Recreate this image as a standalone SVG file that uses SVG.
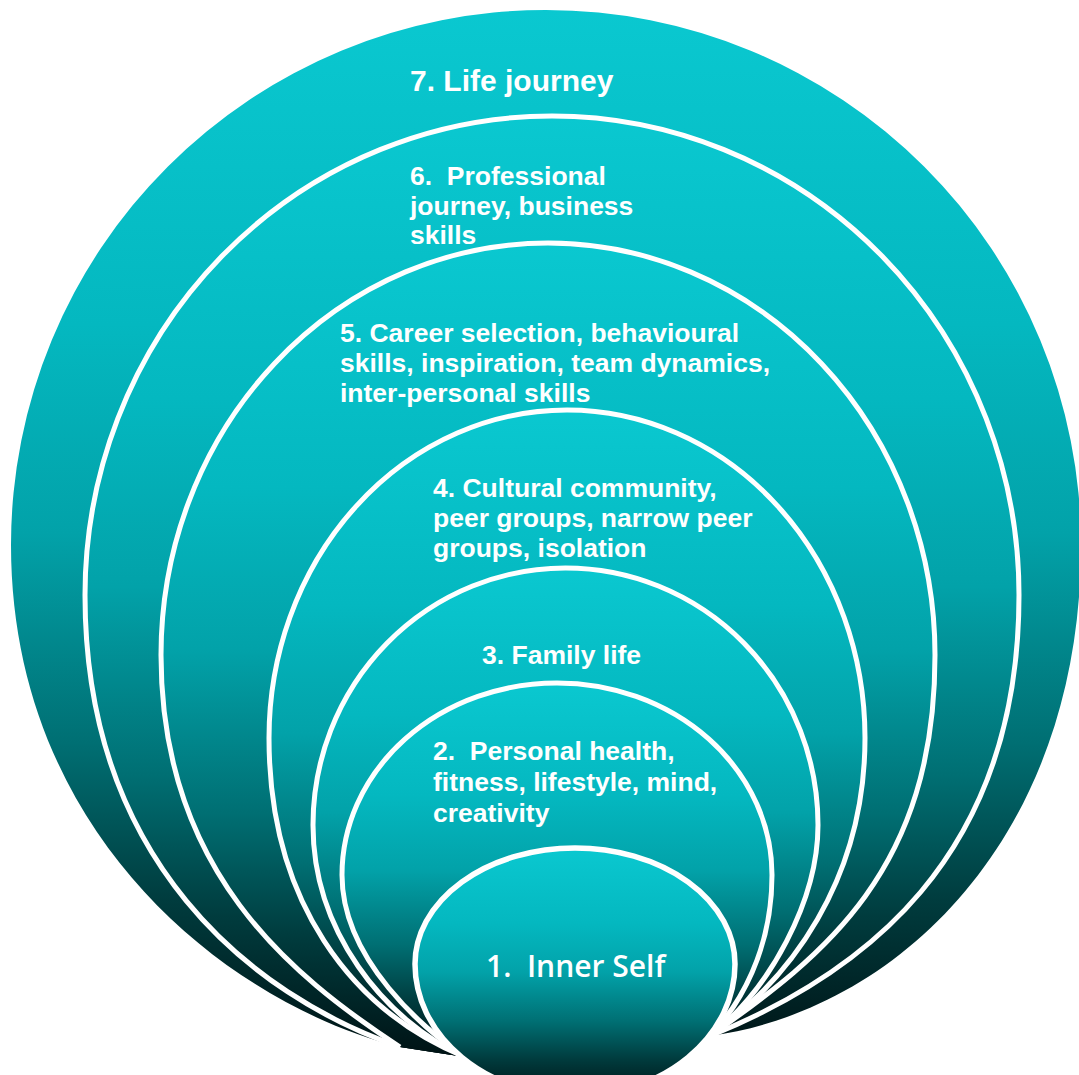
<svg xmlns="http://www.w3.org/2000/svg" width="1079" height="1075" viewBox="0 0 1079 1075">
  <defs>
    <!-- vertical fade used by every ring: bright teal at the top, near black at the bottom -->
    <linearGradient id="tealFade" x1="0" y1="0" x2="0" y2="1">
      <stop offset="0" stop-color="#0AC8D0"/>
      <stop offset="0.3" stop-color="#04B8C0"/>
      <stop offset="0.5" stop-color="#02A2A9"/>
      <stop offset="0.7" stop-color="#006F73"/>
      <stop offset="0.85" stop-color="#003C3E"/>
      <stop offset="1" stop-color="#001214"/>
    </linearGradient>
    <style>
      .band { fill: url(#tealFade); stroke: none; }
      .rim { fill: none; stroke: #FFFFFF; stroke-width: 5; stroke-linejoin: round; }
      .label { font-family: "Liberation Sans", Arial, sans-serif; font-weight: bold; font-size: 26.5px; fill: #FFFFFF; }
      .title { font-size: 30px; }
      .core { font-family: "Open Sans", "Liberation Sans", sans-serif; font-weight: 600; font-size: 30px; fill: #FFFFFF; }
    </style>
  </defs>

  <!-- 7. outermost ring -->
  <g id="ring7">
    <path class="band" d="M 400 1047 C 230 1005 11 835 11 545 A 535 535 0 0 1 1081 545 C 1081 835 900 1010 710 1036 L 575 1000 L 465 1057 Q 432 1052 400 1047 Z"/>
    <text class="label title" x="410" y="91">7. Life journey</text>
  </g>

  <!-- 6. professional ring -->
  <g id="ring6">
    <path class="band" d="M 400 1047 C 250 995 85 860 85 595 A 467 479 0 0 1 1019 595 C 1019 860 860 975 710 1036 L 575 1000 L 465 1057 Q 432 1052 400 1047 Z"/>
    <path class="rim" d="M 400 1047 C 250 995 85 860 85 595 A 467 479 0 0 1 1019 595 C 1019 860 860 975 710 1036"/>
    <text class="label" x="410" y="185" xml:space="preserve">6.  Professional</text>
    <text class="label" x="410" y="215">journey, business</text>
    <text class="label" x="410" y="244">skills</text>
  </g>

  <!-- 5. career ring -->
  <g id="ring5">
    <path class="band" d="M 400 1047 C 290 975 161 870 161 655 A 387 412 0 0 1 935 655 C 935 870 825 955 710 1036 L 575 1000 L 465 1057 Q 432 1052 400 1047 Z"/>
    <path class="rim" d="M 400 1047 C 290 975 161 870 161 655 A 387 412 0 0 1 935 655 C 935 870 825 955 710 1036"/>
    <text class="label" x="340" y="342">5. Career selection, behavioural</text>
    <text class="label" x="340" y="372">skills, inspiration, team dynamics,</text>
    <text class="label" x="340" y="402">inter-personal skills</text>
  </g>

  <!-- 4. community ring -->
  <g id="ring4">
    <path class="band" d="M 465 1057 C 350 1010 269 900 269 738 A 298 328 0 0 1 865 738 C 865 880 790 980 710 1036 L 575 1000 Z"/>
    <path class="rim" d="M 465 1057 C 350 1010 269 900 269 738 A 298 328 0 0 1 865 738 C 865 880 790 980 710 1036"/>
    <text class="label" x="433" y="497">4. Cultural community,</text>
    <text class="label" x="433" y="527">peer groups, narrow peer</text>
    <text class="label" x="433" y="557">groups, isolation</text>
  </g>

  <!-- 3. family ring -->
  <g id="ring3">
    <path class="band" d="M 465 1057 C 383 1020 313 930 313 825 A 252.5 257 0 0 1 818 825 C 818 900 770 990 710 1036 L 575 1000 Z"/>
    <path class="rim" d="M 465 1057 C 383 1020 313 930 313 825 A 252.5 257 0 0 1 818 825 C 818 900 770 990 710 1036"/>
    <text class="label" x="482" y="664">3. Family life</text>
  </g>

  <!-- 2. personal health ring -->
  <g id="ring2">
    <path class="band" d="M 465 1057 C 425 1030 342 960 342 875 A 215 192 0 0 1 772 875 C 772 950 740 1005 710 1036 L 575 1000 Z"/>
    <path class="rim" d="M 465 1057 C 425 1030 342 960 342 875 A 215 192 0 0 1 772 875 C 772 950 740 1005 710 1036"/>
    <text class="label" x="433" y="760" xml:space="preserve">2.  Personal health,</text>
    <text class="label" x="433" y="791">fitness, lifestyle, mind,</text>
    <text class="label" x="433" y="822">creativity</text>
  </g>

  <!-- 1. core -->
  <g id="ring1">
    <path class="band" d="M 415 964 A 160 116 0 0 1 735 964 A 160 132 0 0 1 415 964 Z"/>
    <path class="rim" d="M 415 964 A 160 116 0 0 1 735 964 A 160 132 0 0 1 415 964 Z" style="stroke-width:5.5"/>
    <text class="core" x="486" y="977" xml:space="preserve">1.  Inner Self</text>
  </g>
</svg>
